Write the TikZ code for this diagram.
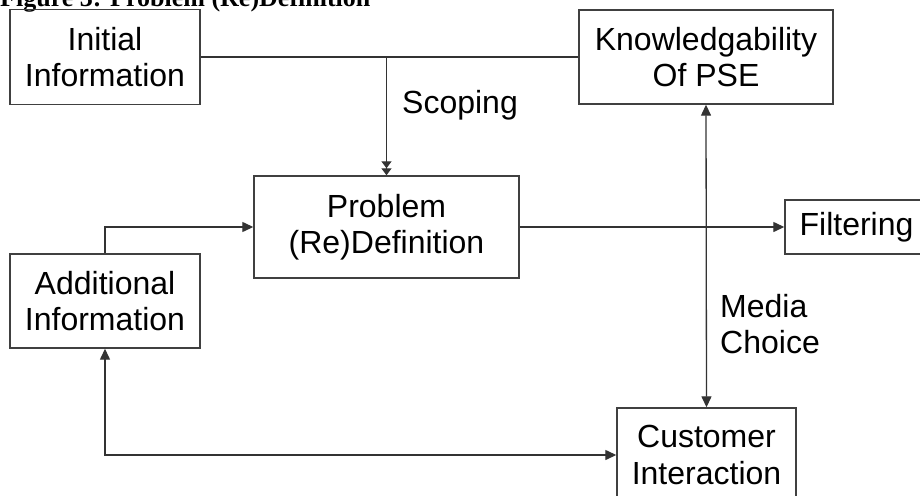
\documentclass[tikz,border=0pt]{standalone}
\usepackage{fontspec}
\setmainfont{Liberation Sans}
\newfontfamily\titlefont{Liberation Serif}
\usetikzlibrary{arrows.meta}
\begin{document}
\begin{tikzpicture}[x=1pt,y=-1pt,
  box/.style={draw=black!75, line width=1.4pt, inner sep=0pt, align=center,
    font=\fontsize{32}{36.5}\selectfont},
  lbl/.style={inner sep=0pt, align=left, font=\fontsize{32}{36.5}\selectfont},
  conn/.style={draw=black!80, line width=1.3pt},
  tip/.tip={Triangle[length=11pt,width=10pt]}
]
\useasboundingbox (0,0) rectangle (920,495);
\clip (0,0) rectangle (920,495);
\node[anchor=base west, inner sep=0pt, font=\titlefont\bfseries\fontsize{26}{30}\selectfont] (title) at (0,7) {Figure 3: Problem (Re)Definition};
\node[box, minimum width=190pt, minimum height=95pt] (init) at (105,57) {Initial\\Information};
\node[box, minimum width=254pt, minimum height=94pt] (know) at (706,57) {Knowledgability\\Of PSE};
\node[box, minimum width=265pt, minimum height=102pt] (prob) at (386.5,227) {Problem\\(Re)Definition};
\node[box, minimum width=143pt, minimum height=54pt] (filt) at (856.5,227) {Filtering};
\node[box, minimum width=190pt, minimum height=94pt] (add) at (105,301) {Additional\\Information};
\node[box, minimum width=179pt, minimum height=94pt] (cust) at (706.5,455) {Customer\\Interaction};
\node[lbl, anchor=base west] (scop) at (402,113) {Scoping};
\node[lbl, anchor=west] (media) at (720,324) {Media\\Choice};
\coordinate (sc) at (prob.north |- init.east);
\draw[conn] (init.east) -- (know.west);
\draw[conn, -{Triangle[length=7pt,width=10pt]Triangle[length=7pt,width=10pt]}] (sc) -- (prob.north);
\draw[conn, -tip] (prob.east) -- (filt.west);
\draw[conn, -tip] (add.north) |- (prob.west);
\draw[conn, tip-tip] (know.south) -- (cust.north);
\draw[conn, tip-tip] (add.south) |- (cust.west);
\end{tikzpicture}
\end{document}
